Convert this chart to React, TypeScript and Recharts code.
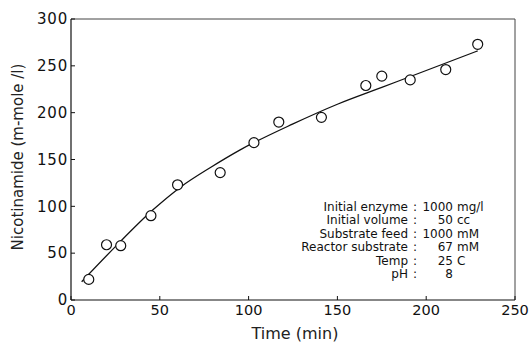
import React from 'react';
import {
    ComposedChart,
    Line,
    Scatter,
    XAxis,
    YAxis,
    ReferenceLine,
    Label
} from 'recharts';

// measured points
const obsTime = [10, 20, 28, 45, 60, 84, 103, 117, 141, 166, 175, 191, 211, 229];
const obsValue = [22, 59, 58, 90, 123, 136, 168, 190, 195, 229, 239, 235, 246, 273];

// hand-drawn fit curve
const fitTime = [6, 25, 46, 62, 79, 95, 125, 150, 175, 200, 229];
const fitValue = [19.5, 57, 96, 121, 142, 160, 188, 209, 227, 245, 266];

const xTicks = [0, 50, 100, 150, 200, 250];
const yTicks = [0, 50, 100, 150, 200, 250, 300];

const conditionLabels = ['Initial enzyme', 'Initial volume', 'Substrate feed', 'Reactor substrate', 'Temp', 'pH'];
const conditionValues = ['1000', '50', '1000', '67', '25', '8'];
const conditionUnits = ['mg/l', 'cc', 'mM', 'mM', 'C', ''];

const obsData = obsTime.map((x, i) => ({ x, y: obsValue[i] }));
const fitData = fitTime.map((x, i) => ({ x, y: fitValue[i] }));

const FONT = '"DejaVu Sans", sans-serif';

const OpenCircle = (props: any) => {
    const { cx, cy } = props;
    if (cx == null || cy == null) return null;
    return <circle cx={cx} cy={cy} r={5} fill="#fff" stroke="#111" strokeWidth={1.2} />;
};

const App: React.FC = () => {
    return (
        <div style={{ position: 'absolute', top: 0, left: 0, width: 529, height: 343, background: '#fff', fontFamily: FONT }}>
            <ComposedChart width={529} height={343} margin={{ top: 19, right: 14, bottom: 0, left: 0 }}>
                <XAxis
                    type="number"
                    dataKey="x"
                    domain={[0, 250]}
                    ticks={xTicks}
                    height={43}
                    tickSize={-4}
                    tickMargin={9}
                    axisLine={{ stroke: '#111', strokeWidth: 1.2 }}
                    tickLine={{ stroke: '#111' }}
                    tick={{ fill: '#111', fontSize: 14.5, fontFamily: FONT }}
                >
                    <Label
                        content={() => (
                            <text x={295} y={339} textAnchor="middle" fontSize={16} fontFamily={FONT} fill="#222">
                                Time (min)
                            </text>
                        )}
                    />
                </XAxis>
                <YAxis
                    type="number"
                    dataKey="y"
                    domain={[0, 300]}
                    ticks={yTicks}
                    width={71}
                    tickSize={-4}
                    tickMargin={7}
                    axisLine={{ stroke: '#111', strokeWidth: 1.2 }}
                    tickLine={{ stroke: '#111' }}
                    tick={{ fill: '#111', fontSize: 15, fontFamily: FONT, letterSpacing: 0.8 }}
                >
                    <Label
                        content={() => (
                            <text
                                x={23}
                                y={157}
                                transform="rotate(-90 23 157)"
                                textAnchor="middle"
                                fontSize={15}
                                fontFamily={FONT}
                                fill="#222"
                            >
                                Nicotinamide (m-mole /l)
                            </text>
                        )}
                    />
                </YAxis>
                <ReferenceLine y={300} stroke="#444" strokeWidth={1} />
                <ReferenceLine x={250} stroke="#444" strokeWidth={1} />
                <Line
                    data={fitData}
                    dataKey="y"
                    type="monotone"
                    stroke="#111"
                    strokeWidth={1.3}
                    dot={false}
                    activeDot={false}
                    isAnimationActive={false}
                />
                <Scatter data={obsData} dataKey="y" shape={<OpenCircle />} isAnimationActive={false} />
            </ComposedChart>
            <div
                style={{
                    position: 'absolute',
                    left: 248,
                    top: 201,
                    display: 'grid',
                    gridTemplateColumns: '160px 14px 31px 50px',
                    fontSize: 12,
                    lineHeight: '13.4px',
                    color: '#111'
                }}
            >
                {conditionLabels.map((lbl, i) => (
                    <React.Fragment key={lbl}>
                        <span style={{ textAlign: 'right' }}>{lbl}</span>
                        <span style={{ textAlign: 'center' }}>:</span>
                        <span style={{ textAlign: 'right' }}>{conditionValues[i]}</span>
                        <span style={{ paddingLeft: 4 }}>{conditionUnits[i]}</span>
                    </React.Fragment>
                ))}
            </div>
        </div>
    );
};

export default App;
